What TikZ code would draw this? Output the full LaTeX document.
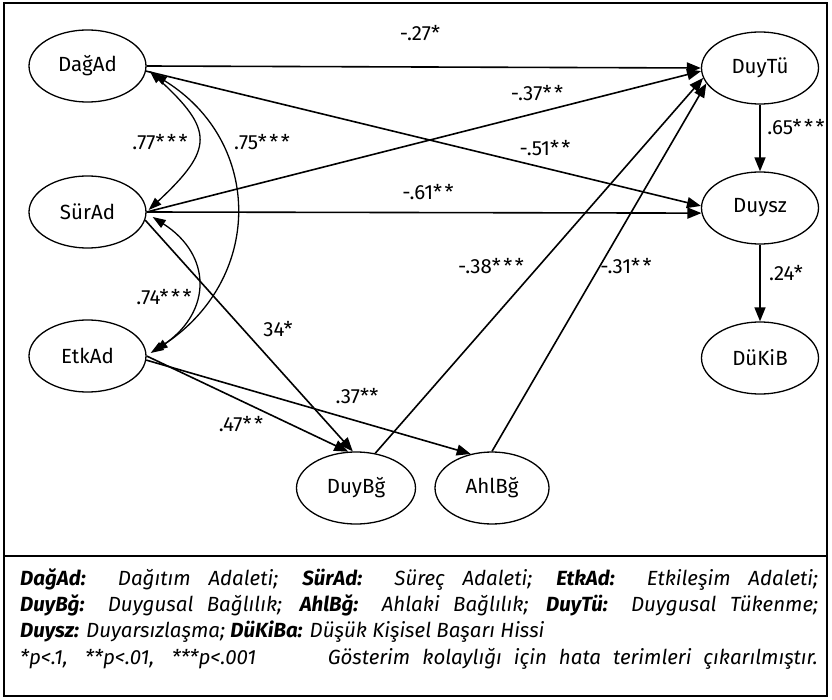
\documentclass[tikz,border=0pt]{standalone}
\usepackage{fontspec}
\setmainfont{Fira Sans}
\usetikzlibrary{arrows.meta,shapes.geometric,calc}
\newcommand\legfont{\fontsize{20.5}{24}\selectfont\itshape}
\newcommand\lkey[1]{\textbf{#1}}
\newcommand\sk{\kern2.5pt}
\begin{document}
\begin{tikzpicture}[x=1pt,y=-1pt,
  var/.style={draw,ellipse,line width=1.3pt,minimum width=117pt,minimum height=72pt,inner sep=0pt,font=\fontsize{20.5}{24}\selectfont},
  pathar/.style={line width=1.6pt,-{Triangle[length=14pt,width=11pt]}},
  cov/.style={line width=1.3pt,{Triangle[length=13pt,width=9pt]}-{Triangle[length=13pt,width=9pt]}},
  coef/.style={font=\fontsize{20.5}{24}\selectfont,inner sep=0pt},
  legline/.style={anchor=base west,inner sep=0pt,font=\legfont}]
\useasboundingbox (0,0) rectangle (832,700);
\draw[line width=1.8pt] (4,3) rectangle (827,696);
\draw[line width=1.8pt] (4,556) -- (827,556);

\node[var] (DagAd) at (87.5,66) {DağAd};
\node[var] (SurAd) at (87.5,212) {SürAd};
\node[var] (EtkAd) at (87.5,356) {EtkAd};
\node[var,minimum width=119pt] (DuyBg) at (356,488) {DuyBğ};
\node[var,minimum width=114pt] (AhlBg) at (492,488) {AhlBğ};
\node[var] (DuyTu) at (760,68) {DuyTü};
\node[var] (Duysz) at (760,208) {Duysz};
\node[var] (DuKiB) at (760,358) {DüKiB};

\draw[pathar] (DagAd.east) -- (DuyTu.west);
\draw[pathar] (DagAd.355) -- (Duysz.178);
\draw[pathar] (SurAd.east) -- (DuyTu.183);
\draw[pathar] (SurAd.east) -- (Duysz.185);
\draw[pathar] (SurAd.352) -- (DuyBg.95);
\draw[pathar] (EtkAd.east) -- (DuyBg.102);
\draw[pathar] (EtkAd.356) -- (AhlBg.122);
\draw[pathar] (DuyBg.61) -- (DuyTu.190);
\draw[pathar] (AhlBg.north) -- (DuyTu.196);
\draw[pathar] (DuyTu.south) -- (Duysz.north);
\draw[pathar] (Duysz.south) -- (DuKiB.north);

\draw[cov] ([shift={(3,5)}]DagAd.east) .. controls (214,130) and (214,149) .. ([shift={(2,-2)}]SurAd.east);
\draw[cov] ([shift={(7,8)}]DagAd.east) .. controls (264,142) and (264,281) .. ([shift={(4,-3)}]EtkAd.east);
\draw[cov] ([shift={(6,5)}]SurAd.east) .. controls (212,255) and (212,311) .. ([shift={(8,-5)}]EtkAd.east);

\node[coef] (l27) at (420,33) {-.27*};
\node[coef] (l37) at (537,93) {-.37*\sk*};
\node[coef] (l51) at (545,148) {-.51*\sk*};
\node[coef] (l61) at (428,192) {-.61*\sk*};
\node[coef] (l77) at (160,142) {.77*\sk*\sk*};
\node[coef] (l75) at (262,142) {.75*\sk*\sk*};
\node[coef] (l74) at (164,297) {.74*\sk*\sk*};
\node[coef] (l34) at (278,329) {34*};
\node[coef] (l37b) at (357,396) {.37**};
\node[coef] (l47) at (241,424) {.47*\sk*};
\node[coef] (l38) at (491,266) {-.38*\sk*\sk*};
\node[coef] (l31) at (626,266) {-.31*\sk*};
\node[coef] (l65) at (796,127) {.65*\sk*\sk*};
\node[coef] (l24) at (786,273) {.24*};

\node[legline] (leg1) at (20,585) {\makebox[798pt][s]{\lkey{DağAd:} Dağıtım Adaleti; \lkey{SürAd:} Süreç Adaleti; \lkey{EtkAd:} Etkileşim Adaleti;}};
\node[legline] (leg2) at (20,611) {\makebox[798pt][s]{\lkey{DuyBğ:} Duygusal Bağlılık; \lkey{AhlBğ:} Ahlaki Bağlılık; \lkey{DuyTü:} Duygusal Tükenme;}};
\node[legline] (leg3) at (20,637) {\lkey{Duysz:} Duyarsızlaşma; \lkey{DüKiBa:} Düşük Kişisel Başarı Hissi};
\node[legline] (leg4a) at (20,664) {\makebox[236pt][s]{*p<.1, **p<.01, ***p<.001}};
\node[legline,anchor=base east] (leg4b) at (818,664) {\makebox[490pt][s]{Gösterim kolaylığı için hata terimleri çıkarılmıştır.}};
\end{tikzpicture}
\end{document}
